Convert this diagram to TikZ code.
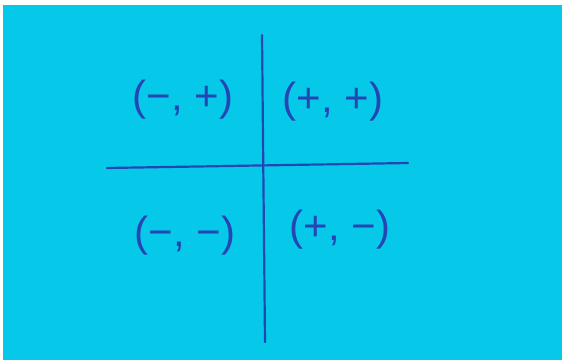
\documentclass[tikz,border=0pt]{standalone}
\usepackage{fontspec}
\setmainfont{Liberation Sans}
\definecolor{note}{RGB}{6,200,232}
\definecolor{ink}{RGB}{36,70,180}
\tikzset{
  axis/.style={draw=ink, line width=2.2pt, line cap=round},
  lbl/.style={text=ink, font=\fontsize{42}{46}\selectfont, inner sep=0pt}
}
\begin{document}
\begin{tikzpicture}[x=1pt,y=-1pt]
\useasboundingbox (0,0) rectangle (565,360);
\fill[white] (0,0) rectangle (565,360);
\fill[note] (3,5) rectangle (562,360);
\coordinate (vt) at (262,35);
\coordinate (vb) at (265,342);
\coordinate (hl) at (107,168);
\coordinate (hr) at (408,163);
\draw[axis] (vt) -- (vb);
\draw[axis] (hl) -- (hr);
\node[lbl] (q2) at (183,100) {(−, +)};
\node[lbl] (q1) at (333,102) {(+, +)};
\node[lbl] (q3) at (185,236) {(−, −)};
\node[lbl] (q4) at (340,230) {(+, −)};
\end{tikzpicture}
\end{document}
